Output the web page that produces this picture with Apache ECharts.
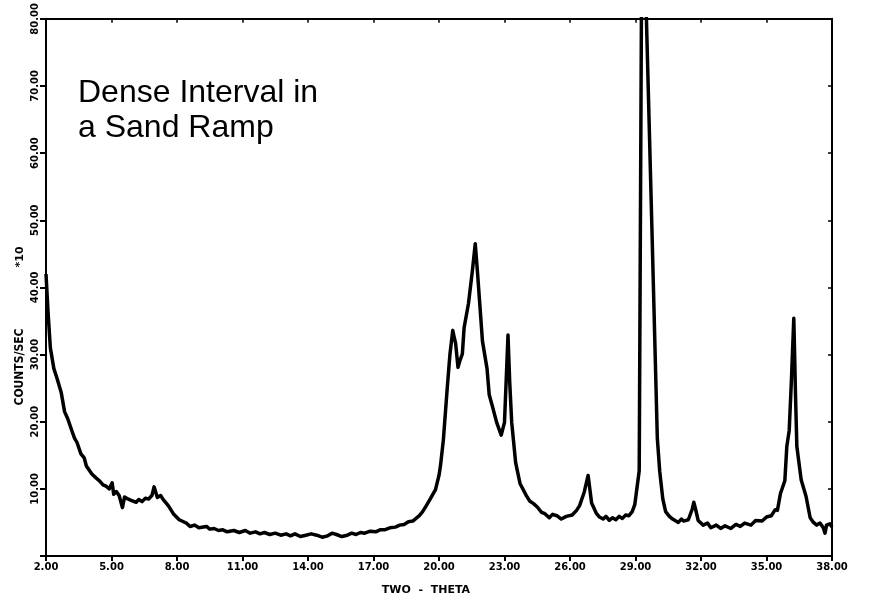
<!DOCTYPE html>
<html>
<head>
<meta charset="utf-8">
<script src="https://cdn.jsdelivr.net/npm/echarts@6/dist/echarts.min.js"></script>
<style>html,body{margin:0;padding:0;background:#fff}#c{width:873px;height:599px}</style>
</head>
<body>
<div id="c"></div>
<script>
const twoTheta = [2.0, 2.1, 2.2, 2.36, 2.5, 2.7, 2.85, 3.0, 3.2, 3.3, 3.42, 3.6, 3.75, 3.85, 4.1, 4.3, 4.45, 4.61, 4.75, 4.9, 5.03, 5.1, 5.22, 5.35, 5.5, 5.6, 5.75, 5.9, 6.13, 6.25, 6.4, 6.55, 6.7, 6.85, 6.95, 7.1, 7.25, 7.37, 7.6, 7.83, 8.1, 8.3, 8.43, 8.6, 8.8, 9.0, 9.35, 9.5, 9.7, 9.9, 10.1, 10.3, 10.6, 10.85, 11.13, 11.35, 11.6, 11.8, 12.0, 12.25, 12.5, 12.75, 13.0, 13.2, 13.4, 13.65, 13.9, 14.15, 14.4, 14.65, 14.9, 15.1, 15.3, 15.55, 15.8, 16.0, 16.2, 16.4, 16.6, 16.85, 17.1, 17.3, 17.5, 17.75, 18.0, 18.2, 18.4, 18.6, 18.8, 18.95, 19.1, 19.25, 19.4, 19.6, 19.84, 20.0, 20.07, 20.2, 20.38, 20.5, 20.63, 20.7, 20.76, 20.87, 20.95, 21.07, 21.15, 21.35, 21.53, 21.66, 21.76, 21.86, 21.99, 22.2, 22.3, 22.43, 22.64, 22.85, 23.0, 23.16, 23.24, 23.33, 23.51, 23.71, 24.0, 24.15, 24.33, 24.5, 24.7, 24.85, 25.05, 25.2, 25.4, 25.6, 25.83, 26.1, 26.3, 26.44, 26.65, 26.83, 26.99, 27.2, 27.35, 27.52, 27.65, 27.8, 27.95, 28.1, 28.25, 28.4, 28.55, 28.7, 28.85, 28.97, 29.17, 29.27, 29.3, 29.5, 29.75, 30.0, 30.11, 30.25, 30.38, 30.55, 30.7, 30.85, 30.96, 31.1, 31.2, 31.42, 31.6, 31.67, 31.75, 31.87, 32.1, 32.3, 32.45, 32.7, 32.9, 33.1, 33.37, 33.6, 33.8, 34.0, 34.29, 34.5, 34.8, 35.0, 35.22, 35.4, 35.5, 35.64, 35.84, 35.93, 36.04, 36.14, 36.25, 36.28, 36.33, 36.39, 36.59, 36.81, 37.0, 37.15, 37.3, 37.45, 37.6, 37.68, 37.75, 37.9, 38.0];
const counts = [42, 36, 31, 27.9, 26.5, 24.3, 21.5, 20.4, 18.5, 17.6, 16.9, 15.2, 14.6, 13.4, 12.2, 11.6, 11.2, 10.6, 10.4, 10.0, 10.9, 9.2, 9.6, 9.0, 7.2, 8.8, 8.5, 8.3, 8.0, 8.4, 8.1, 8.6, 8.5, 9.0, 10.3, 8.7, 9.0, 8.4, 7.5, 6.3, 5.4, 5.1, 4.9, 4.4, 4.6, 4.2, 4.4, 4.0, 4.1, 3.8, 3.9, 3.6, 3.8, 3.5, 3.8, 3.4, 3.6, 3.3, 3.5, 3.2, 3.4, 3.1, 3.3, 3.0, 3.3, 2.9, 3.1, 3.3, 3.1, 2.8, 3.0, 3.4, 3.2, 2.9, 3.1, 3.4, 3.2, 3.5, 3.4, 3.7, 3.6, 3.9, 3.9, 4.2, 4.3, 4.6, 4.7, 5.1, 5.2, 5.6, 6.0, 6.6, 7.4, 8.5, 9.9, 12.0, 13.5, 17.3, 25.1, 30.0, 33.6, 32.5, 31.7, 28.1, 29.0, 30.1, 34.0, 37.6, 42.5, 46.5, 42.4, 37.9, 32.0, 27.9, 24.0, 22.5, 19.9, 18.0, 19.9, 32.9, 25.8, 19.9, 13.9, 10.8, 9.0, 8.2, 7.8, 7.3, 6.5, 6.3, 5.7, 6.2, 6.0, 5.5, 5.9, 6.1, 6.8, 7.5, 9.5, 12.0, 7.9, 6.4, 5.8, 5.5, 5.9, 5.3, 5.7, 5.4, 5.9, 5.6, 6.1, 6.0, 6.6, 7.7, 12.7, 80, 105, 80, 49, 17.5, 12.6, 8.5, 6.6, 5.9, 5.5, 5.2, 5.0, 5.5, 5.2, 5.4, 7.0, 8.0, 7.0, 5.3, 4.6, 4.9, 4.2, 4.6, 4.1, 4.5, 4.1, 4.7, 4.4, 4.9, 4.6, 5.3, 5.2, 5.8, 6.0, 6.9, 6.8, 9.3, 11.2, 16.3, 18.7, 26.1, 35.4, 31.2, 23.8, 16.3, 11.3, 8.9, 5.7, 5.0, 4.6, 4.9, 4.2, 3.4, 4.6, 4.8, 4.3];
const xMin = 2, xMax = 38, xStep = 3;
const yMin = 0, yMax = 80, yStep = 10;
const titleLines = ['Dense Interval in', 'a Sand Ramp'];
const xName = 'TWO  -  THETA';
const yName = 'COUNTS/SEC';
const yScaleNote = '*10';

const chart = echarts.init(document.getElementById('c'), null, {renderer: 'canvas'});
const axisLineStyle = {color: '#000', width: 2};
const labelFont = {color: '#000', fontFamily: 'DejaVu Sans', fontWeight: 'bold', fontSize: 10};
chart.setOption({
  backgroundColor: '#fff',
  animation: false,
  grid: {left: 46, right: 41, top: 18, bottom: 43, containLabel: false},
  xAxis: [{
    type: 'value', min: xMin, max: xMax, interval: xStep, position: 'bottom',
    axisLine: {show: true, onZero: false, lineStyle: axisLineStyle},
    axisTick: {show: true, inside: false, length: 5, lineStyle: {color: '#000', width: 2}},
    splitLine: {show: false},
    axisLabel: Object.assign({margin: 6, formatter: v => v.toFixed(2)}, labelFont)
  }, {
    type: 'value', min: xMin, max: xMax, interval: xStep, position: 'top',
    axisLine: {show: true, onZero: false, lineStyle: axisLineStyle},
    axisTick: {show: true, inside: true, length: 4, lineStyle: {color: '#000', width: 1.5}},
    splitLine: {show: false}, axisLabel: {show: false}
  }],
  yAxis: [{
    type: 'value', min: yMin, max: yMax, interval: yStep, position: 'left',
    axisLine: {show: true, onZero: false, lineStyle: axisLineStyle},
    axisTick: {show: true, inside: false, length: 6, lineStyle: {color: '#000', width: 2}},
    splitLine: {show: false},
    axisLabel: Object.assign({margin: 6, rotate: 90, formatter: v => v === 0 ? '' : v.toFixed(2)}, labelFont)
  }, {
    type: 'value', min: yMin, max: yMax, interval: yStep, position: 'right',
    axisLine: {show: true, onZero: false, lineStyle: axisLineStyle},
    axisTick: {show: true, inside: true, length: 4, lineStyle: {color: '#000', width: 1.5}},
    splitLine: {show: false}, axisLabel: {show: false}
  }],
  graphic: [
    {type: 'text', left: 78, top: 76, style: {text: titleLines.join('\n'), font: '32px "Liberation Sans"', lineHeight: 35, fill: '#000'}},
    {type: 'text', x: 426, y: 590, style: {text: xName, font: 'bold 11px "DejaVu Sans"', fill: '#000', textAlign: 'center', textVerticalAlign: 'middle'}},
    {type: 'text', x: 20, y: 367, rotation: Math.PI / 2, style: {text: yName, font: 'bold 12px "DejaVu Sans Condensed"', fill: '#000', textAlign: 'center', textVerticalAlign: 'middle'}},
    {type: 'text', x: 20, y: 257, rotation: Math.PI / 2, style: {text: yScaleNote, font: 'bold 11px "DejaVu Sans"', fill: '#000', textAlign: 'center', textVerticalAlign: 'middle'}}
  ],
  series: [{
    type: 'line', xAxisIndex: 0, yAxisIndex: 0,
    data: twoTheta.map((t, i) => [t, counts[i]]),
    showSymbol: false, smooth: false, clip: true,
    lineStyle: {color: '#000', width: 3.5, join: 'round'}
  }]
});
</script>
</body>
</html>
